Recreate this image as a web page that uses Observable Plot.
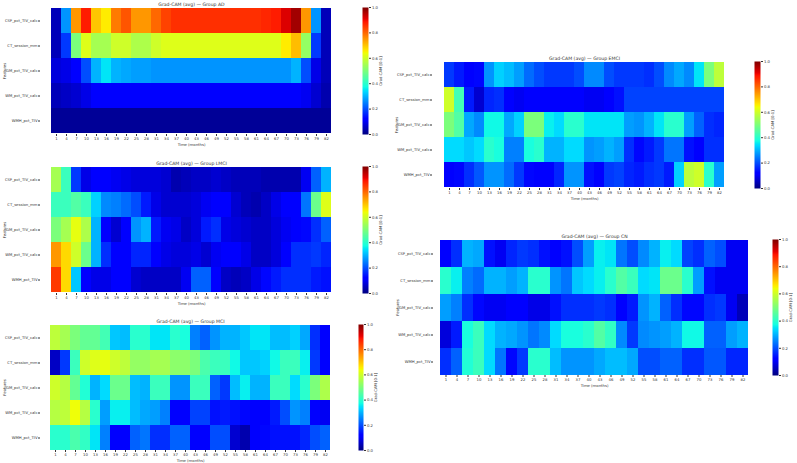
<!DOCTYPE html>
<html>
<head>
<meta charset="utf-8">
<script src="https://cdn.jsdelivr.net/npm/d3@7"></script>
<script src="https://cdn.jsdelivr.net/npm/@observablehq/plot@0.6"></script>
<style>
  html, body { margin: 0; padding: 0; background: #fff; }
  #board { position: relative; width: 797px; height: 463px; background: #fff; overflow: hidden; }
  #board svg { position: absolute; overflow: visible; }
</style>
</head>
<body>
<div id="board"></div>
<script>
// Time points (months) and input features shared by every group
const months = [1, 4, 7, 10, 13, 16, 19, 22, 25, 28, 31, 34, 37, 40, 43, 46, 49, 52, 55, 58, 61, 64, 67, 70, 73, 76, 79, 82];
const features = ["CSF_pct_TIV_calc", "CT_session_mm", "GM_pct_TIV_calc", "WM_pct_TIV_calc", "WMH_pct_TIV"];
const colorTicks = [0, 0.2, 0.4, 0.6, 0.8, 1.0];

// Average Grad-CAM importance per feature (rows) and time point (columns)
const groupAD = [
  [0.05, 0.27, 0.75, 0.88, 0.70, 0.66, 0.78, 0.82, 0.75, 0.75, 0.80, 0.84, 0.86, 0.86, 0.86, 0.86, 0.86, 0.86, 0.86, 0.86, 0.86, 0.87, 0.88, 0.92, 0.97, 0.75, 0.27, 0.05],
  [0.05, 0.18, 0.50, 0.62, 0.55, 0.55, 0.60, 0.60, 0.56, 0.56, 0.60, 0.62, 0.62, 0.62, 0.62, 0.62, 0.62, 0.62, 0.62, 0.62, 0.62, 0.62, 0.62, 0.66, 0.71, 0.53, 0.18, 0.05],
  [0.08, 0.09, 0.11, 0.20, 0.30, 0.35, 0.30, 0.29, 0.28, 0.28, 0.27, 0.27, 0.27, 0.27, 0.27, 0.27, 0.27, 0.27, 0.27, 0.27, 0.27, 0.27, 0.27, 0.27, 0.30, 0.20, 0.09, 0.05],
  [0.05, 0.06, 0.07, 0.09, 0.11, 0.11, 0.11, 0.11, 0.11, 0.11, 0.11, 0.11, 0.11, 0.11, 0.11, 0.11, 0.11, 0.11, 0.11, 0.11, 0.11, 0.11, 0.11, 0.11, 0.11, 0.10, 0.07, 0.04],
  [0.02, 0.02, 0.02, 0.02, 0.02, 0.02, 0.02, 0.02, 0.02, 0.02, 0.02, 0.02, 0.02, 0.02, 0.02, 0.02, 0.02, 0.02, 0.02, 0.02, 0.02, 0.02, 0.02, 0.02, 0.02, 0.02, 0.02, 0.02]
];
const groupLMCI = [
  [0.55, 0.42, 0.18, 0.09, 0.12, 0.12, 0.10, 0.09, 0.08, 0.08, 0.08, 0.07, 0.04, 0.05, 0.06, 0.06, 0.07, 0.06, 0.05, 0.05, 0.05, 0.04, 0.04, 0.04, 0.04, 0.10, 0.22, 0.30],
  [0.42, 0.42, 0.45, 0.42, 0.33, 0.26, 0.25, 0.23, 0.20, 0.15, 0.09, 0.07, 0.07, 0.07, 0.08, 0.10, 0.12, 0.12, 0.07, 0.05, 0.04, 0.06, 0.09, 0.11, 0.12, 0.24, 0.48, 0.62],
  [0.50, 0.55, 0.63, 0.56, 0.30, 0.12, 0.07, 0.12, 0.27, 0.30, 0.15, 0.10, 0.09, 0.06, 0.08, 0.15, 0.17, 0.09, 0.08, 0.07, 0.06, 0.06, 0.08, 0.10, 0.12, 0.13, 0.17, 0.22],
  [0.75, 0.68, 0.60, 0.48, 0.30, 0.17, 0.12, 0.12, 0.16, 0.16, 0.12, 0.09, 0.08, 0.08, 0.09, 0.07, 0.10, 0.12, 0.12, 0.09, 0.06, 0.06, 0.08, 0.12, 0.17, 0.17, 0.18, 0.16],
  [0.85, 0.68, 0.32, 0.12, 0.09, 0.09, 0.12, 0.12, 0.07, 0.06, 0.06, 0.06, 0.06, 0.10, 0.22, 0.22, 0.12, 0.06, 0.05, 0.06, 0.09, 0.13, 0.15, 0.17, 0.17, 0.17, 0.15, 0.14]
];
const groupMCI = [
  [0.58, 0.55, 0.50, 0.47, 0.47, 0.43, 0.32, 0.31, 0.40, 0.40, 0.35, 0.35, 0.40, 0.38, 0.25, 0.22, 0.27, 0.30, 0.30, 0.32, 0.35, 0.35, 0.31, 0.31, 0.33, 0.29, 0.17, 0.12],
  [0.06, 0.18, 0.42, 0.60, 0.62, 0.63, 0.60, 0.58, 0.53, 0.53, 0.55, 0.55, 0.52, 0.52, 0.50, 0.44, 0.42, 0.42, 0.37, 0.32, 0.32, 0.33, 0.37, 0.42, 0.42, 0.36, 0.18, 0.12],
  [0.60, 0.57, 0.47, 0.39, 0.30, 0.34, 0.48, 0.48, 0.31, 0.30, 0.42, 0.42, 0.27, 0.27, 0.42, 0.42, 0.22, 0.18, 0.31, 0.36, 0.30, 0.30, 0.42, 0.42, 0.34, 0.40, 0.50, 0.56],
  [0.57, 0.58, 0.64, 0.57, 0.40, 0.28, 0.36, 0.36, 0.31, 0.29, 0.28, 0.25, 0.12, 0.11, 0.19, 0.19, 0.14, 0.15, 0.14, 0.13, 0.12, 0.12, 0.15, 0.20, 0.27, 0.25, 0.12, 0.10],
  [0.40, 0.40, 0.44, 0.41, 0.35, 0.25, 0.12, 0.12, 0.22, 0.24, 0.17, 0.17, 0.22, 0.22, 0.12, 0.12, 0.20, 0.20, 0.07, 0.04, 0.12, 0.13, 0.14, 0.14, 0.14, 0.16, 0.20, 0.22]
];
const groupEMCI = [
  [0.18, 0.15, 0.11, 0.13, 0.27, 0.33, 0.31, 0.28, 0.23, 0.20, 0.18, 0.18, 0.18, 0.20, 0.26, 0.26, 0.20, 0.18, 0.18, 0.18, 0.17, 0.20, 0.26, 0.29, 0.26, 0.35, 0.50, 0.58],
  [0.60, 0.43, 0.15, 0.07, 0.16, 0.17, 0.11, 0.10, 0.12, 0.12, 0.12, 0.12, 0.12, 0.11, 0.10, 0.10, 0.12, 0.14, 0.19, 0.19, 0.19, 0.19, 0.19, 0.19, 0.19, 0.19, 0.19, 0.19],
  [0.50, 0.45, 0.29, 0.26, 0.37, 0.37, 0.29, 0.33, 0.50, 0.50, 0.36, 0.34, 0.40, 0.40, 0.35, 0.35, 0.35, 0.35, 0.28, 0.27, 0.30, 0.35, 0.40, 0.40, 0.28, 0.22, 0.17, 0.16],
  [0.34, 0.34, 0.32, 0.34, 0.40, 0.38, 0.25, 0.25, 0.38, 0.40, 0.30, 0.30, 0.34, 0.34, 0.27, 0.28, 0.30, 0.28, 0.17, 0.13, 0.15, 0.18, 0.24, 0.24, 0.14, 0.12, 0.17, 0.17],
  [0.12, 0.13, 0.17, 0.21, 0.27, 0.27, 0.23, 0.18, 0.13, 0.11, 0.11, 0.16, 0.27, 0.27, 0.14, 0.12, 0.18, 0.19, 0.16, 0.15, 0.17, 0.18, 0.15, 0.33, 0.58, 0.60, 0.40, 0.28]
];
const groupCN = [
  [0.12, 0.17, 0.30, 0.29, 0.14, 0.10, 0.16, 0.18, 0.17, 0.14, 0.12, 0.14, 0.20, 0.28, 0.36, 0.35, 0.24, 0.20, 0.26, 0.30, 0.36, 0.34, 0.19, 0.17, 0.22, 0.20, 0.10, 0.10],
  [0.40, 0.36, 0.25, 0.23, 0.30, 0.30, 0.28, 0.30, 0.40, 0.40, 0.27, 0.24, 0.32, 0.34, 0.36, 0.40, 0.45, 0.42, 0.34, 0.35, 0.48, 0.48, 0.40, 0.28, 0.14, 0.10, 0.10, 0.10],
  [0.28, 0.25, 0.17, 0.13, 0.10, 0.10, 0.12, 0.12, 0.09, 0.09, 0.14, 0.17, 0.17, 0.17, 0.18, 0.17, 0.12, 0.15, 0.27, 0.30, 0.22, 0.17, 0.13, 0.13, 0.17, 0.18, 0.10, 0.05],
  [0.08, 0.15, 0.38, 0.42, 0.34, 0.30, 0.29, 0.27, 0.24, 0.26, 0.34, 0.38, 0.38, 0.40, 0.45, 0.41, 0.26, 0.18, 0.26, 0.27, 0.28, 0.30, 0.37, 0.37, 0.22, 0.22, 0.28, 0.30],
  [0.17, 0.22, 0.39, 0.42, 0.34, 0.24, 0.13, 0.18, 0.40, 0.40, 0.31, 0.27, 0.27, 0.27, 0.29, 0.31, 0.31, 0.29, 0.20, 0.20, 0.22, 0.22, 0.17, 0.17, 0.21, 0.21, 0.16, 0.16]
];

// matplotlib "jet" colormap as a piecewise-linear interpolator
function segment(t, stops) {
  for (let i = 1; i < stops.length; i++) {
    const [x0, y0] = stops[i - 1], [x1, y1] = stops[i];
    if (t <= x1) return y0 + (y1 - y0) * (t - x0) / (x1 - x0);
  }
  return stops[stops.length - 1][1];
}
function jet(t) {
  t = Math.max(0, Math.min(1, t));
  const r = segment(t, [[0, 0], [0.35, 0], [0.66, 1], [0.89, 1], [1, 0.5]]);
  const g = segment(t, [[0, 0], [0.125, 0], [0.375, 1], [0.64, 1], [0.91, 0], [1, 0]]);
  const b = segment(t, [[0, 0.5], [0.11, 1], [0.34, 1], [0.65, 0], [1, 0]]);
  return `rgb(${Math.round(r * 255)},${Math.round(g * 255)},${Math.round(b * 255)})`;
}
const colorScale = {type: "linear", domain: [0, 1], interpolate: jet};
const baseStyle = {background: "transparent", fontFamily: "DejaVu Sans, sans-serif", fontSize: "3.8px", color: "#333", overflow: "visible"};

const board = document.getElementById("board");

function place(svg, left, top) {
  svg.style.left = left + "px";
  svg.style.top = top + "px";
  board.appendChild(svg);
}

function heatmap(title, rows, box) {
  const data = rows.flatMap((row, i) => row.map((value, j) => ({feature: features[i], month: months[j], value})));
  const mL = 40, mR = 2, mT = 10, mB = 16;
  const w = box.x1 - box.x0, h = box.y1 - box.y0;
  const svg = Plot.plot({
    width: w + mL + mR, height: h + mT + mB,
    marginLeft: mL, marginRight: mR, marginTop: mT, marginBottom: mB,
    style: baseStyle,
    x: {type: "band", domain: months, padding: 0},
    y: {type: "band", domain: features, padding: 0},
    color: colorScale,
    marks: [
      Plot.cell(data, {x: "month", y: "feature", fill: "value", inset: 0, shapeRendering: "crispEdges"}),
      Plot.axisX({tickSize: 2, tickPadding: 1, label: "Time (months)", labelAnchor: "center", labelArrow: false, labelOffset: 11}),
      Plot.axisY({tickSize: 2, tickPadding: 1, label: "Features", labelAnchor: "center", labelArrow: false, labelOffset: 37}),
      Plot.text([title], {text: d => d, frameAnchor: "top", lineAnchor: "bottom", dy: -1.5, fontSize: 4.6, fill: "#333"})
    ]
  });
  place(svg, box.x0 - mL, box.y0 - mT);
}

function colorbar(box) {
  const mL = 0, mR = 24, mT = 10, mB = 16;
  const w = box.c1 - box.c0, h = box.y1 - box.y0;
  const svg = Plot.plot({
    width: w + mL + mR, height: h + mT + mB,
    marginLeft: mL, marginRight: mR, marginTop: mT, marginBottom: mB,
    style: baseStyle,
    x: {domain: [0, 1], axis: null},
    y: {domain: [0, 1]},
    color: colorScale,
    marks: [
      Plot.raster({x1: 0, x2: 1, y1: 0, y2: 1, width: 1, height: 256, fill: (x, y) => y}),
      Plot.axisY({anchor: "right", ticks: colorTicks, tickFormat: ".1f", tickSize: 2, tickPadding: 1.5,
        label: "Grad-CAM [0-1]", labelAnchor: "center", labelArrow: false, labelOffset: 13})
    ]
  });
  place(svg, box.c0 - mL, box.y0 - mT);
}

const panels = [
  {title: "Grad-CAM (avg) — Group AD", rows: groupAD, box: {x0: 40, y0: 7, x1: 342, y1: 134, c0: 362, c1: 368}},
  {title: "Grad-CAM (avg) — Group LMCI", rows: groupLMCI, box: {x0: 40, y0: 166, x1: 342, y1: 293, c0: 362, c1: 368}},
  {title: "Grad-CAM (avg) — Group MCI", rows: groupMCI, box: {x0: 40, y0: 324, x1: 340, y1: 450, c0: 358, c1: 363}},
  {title: "Grad-CAM (avg) — Group EMCI", rows: groupEMCI, box: {x0: 432, y0: 61, x1: 736, y1: 188, c0: 754, c1: 760}},
  {title: "Grad-CAM (avg) — Group CN", rows: groupCN, box: {x0: 433, y0: 239, x1: 755, y1: 375, c0: 772, c1: 778}}
];

for (const p of panels) {
  heatmap(p.title, p.rows, p.box);
  colorbar(p.box);
}
</script>
</body>
</html>
